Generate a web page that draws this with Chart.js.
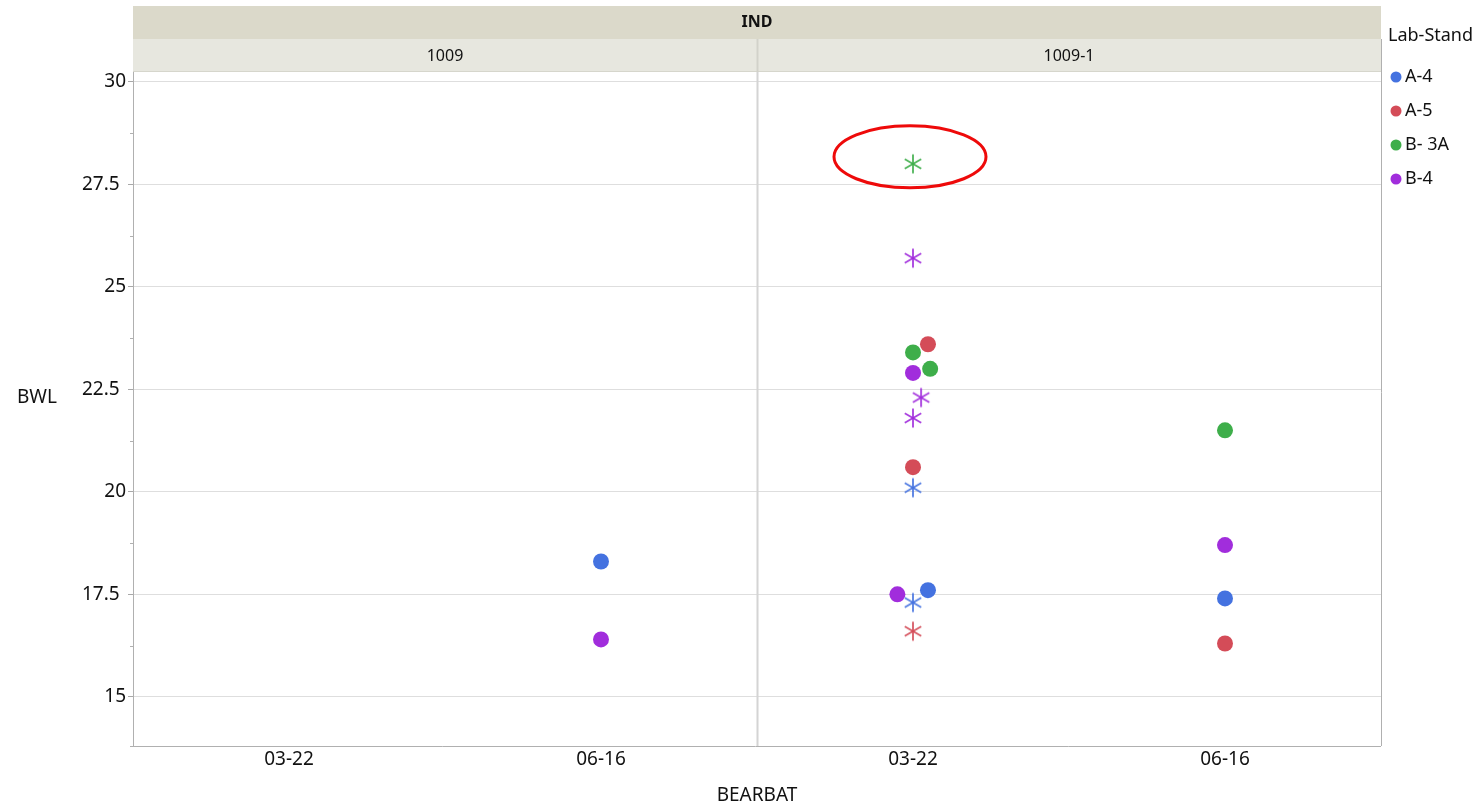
<!DOCTYPE html>
<html>
<head>
<meta charset="utf-8">
<script src="https://cdn.jsdelivr.net/npm/chart.js@4.4.1/dist/chart.umd.min.js"></script>
<style>
  html, body { margin: 0; padding: 0; background: #fff; }
</style>
</head>
<body>
<canvas id="c" width="1478" height="808"></canvas>
<script>
// categories
const indPanels = ['1009', '1009-1'];
const bearbat = ['03-22', '06-16'];
const labStands = ['A-4', 'A-5', 'B- 3A', 'B-4'];
const yTicks = [15, 17.5, 20, 22.5, 25, 27.5, 30];

// points: [slot (panel*2 + date), BWL, marker, jitter]
const a4 = [[1, 18.3, 'o', 0], [2, 20.1, '*', 0], [2, 17.6, 'o', 0.048], [2, 17.3, '*', 0], [3, 17.4, 'o', 0]];
const a5 = [[2, 23.6, 'o', 0.048], [2, 20.6, 'o', 0], [2, 16.6, '*', 0], [3, 16.3, 'o', 0]];
const b3a = [[2, 28.0, '*', 0], [2, 23.4, 'o', 0], [2, 23.0, 'o', 0.055], [3, 21.5, 'o', 0]];
const b4 = [[1, 16.4, 'o', 0], [2, 25.7, '*', 0], [2, 22.9, 'o', 0], [2, 22.3, '*', 0.026], [2, 21.8, '*', 0], [2, 17.5, 'o', -0.05], [3, 18.7, 'o', 0]];
const seriesPoints = [a4, a5, b3a, b4];
const highlight = { slot: 2, bwl: 28.0 };

const colors = ['#4472e0', '#d44c58', '#3eae4a', '#a12ddc'];
const FONT = '"Noto Sans", "Open Sans", sans-serif';

function makeStar(color) {
    const c = document.createElement('canvas');
    c.width = 22; c.height = 22;
    const g = c.getContext('2d');
    g.strokeStyle = color;
    g.globalAlpha = 0.92;
    g.lineWidth = 1.8;
    [90, 30, 150].forEach(a => {
        const r = 9.5, rad = a * Math.PI / 180;
        g.beginPath();
        g.moveTo(11 - r * Math.cos(rad), 11 - r * Math.sin(rad));
        g.lineTo(11 + r * Math.cos(rad), 11 + r * Math.sin(rad));
        g.stroke();
    });
    return c;
}
const stars = colors.map(makeStar);

const datasets = labStands.map((name, i) => ({
    label: name,
    data: seriesPoints[i].map(p => ({ x: p[0] + 0.5 + p[3], y: p[1], star: p[2] === '*' })),
    backgroundColor: colors[i],
    borderWidth: 0,
    pointRadius: 8,
    pointStyle: ctx => (ctx.raw && ctx.raw.star) ? stars[i] : 'circle'
}));

const decor = {
    id: 'decor',
    beforeDatasetsDraw(chart) {
        const { ctx, chartArea: a, scales: { x } } = chart;
        const dx = Math.round(x.getPixelForValue(2)) + 0.5;
        ctx.save();
        ctx.strokeStyle = '#d4d4d4';
        ctx.lineWidth = 2;
        ctx.beginPath(); ctx.moveTo(dx, a.top); ctx.lineTo(dx, a.bottom); ctx.stroke();
        ctx.restore();
    },
    afterDatasetsDraw(chart) {
        const { ctx, chartArea: a, scales: { x, y } } = chart;
        ctx.save();
        // headers
        ctx.fillStyle = '#dbd9ca';
        ctx.fillRect(a.left, 6, a.right - a.left, 33);
        ctx.fillStyle = '#e7e7df';
        ctx.fillRect(a.left, 39, a.right - a.left, 32);
        ctx.strokeStyle = '#d6d6cc';
        ctx.lineWidth = 1;
        ctx.beginPath(); ctx.moveTo(a.left, 71.5); ctx.lineTo(a.right, 71.5); ctx.stroke();
        const dx = Math.round(x.getPixelForValue(2)) + 0.5;
        ctx.strokeStyle = '#d2d2ca';
        ctx.lineWidth = 2;
        ctx.beginPath(); ctx.moveTo(dx, 39); ctx.lineTo(dx, 72); ctx.stroke();
        ctx.fillStyle = '#111';
        ctx.textAlign = 'center';
        ctx.textBaseline = 'middle';
        ctx.font = 'bold 16px ' + FONT;
        ctx.fillText('IND', (a.left + a.right) / 2, 22);
        ctx.font = '16px ' + FONT;
        indPanels.forEach((p, i) => ctx.fillText(p, x.getPixelForValue(i * 2 + 1), 56));

        // plot borders
        ctx.strokeStyle = '#b0b0b0';
        ctx.lineWidth = 1;
        ctx.beginPath();
        ctx.moveTo(a.left + 0.5, a.top); ctx.lineTo(a.left + 0.5, a.bottom);
        ctx.moveTo(a.left - 3, a.bottom + 0.5); ctx.lineTo(a.right, a.bottom + 0.5);
        ctx.moveTo(a.right + 0.5, 39); ctx.lineTo(a.right + 0.5, a.bottom);
        ctx.stroke();
        // minor ticks
        ctx.beginPath();
        for (let i = 0; i < yTicks.length - 1; i++) {
            const py = Math.round(y.getPixelForValue((yTicks[i] + yTicks[i + 1]) / 2)) + 0.5;
            ctx.moveTo(a.left - 3, py); ctx.lineTo(a.left, py);
        }
        ctx.stroke();

        // highlight ellipse
        const hx = x.getPixelForValue(highlight.slot + 0.5) - 3;
        const hy = y.getPixelForValue(highlight.bwl) - 7;
        ctx.strokeStyle = '#ee0a0a';
        ctx.lineWidth = 3;
        ctx.beginPath();
        ctx.ellipse(hx, hy, 76, 31, 0, 0, Math.PI * 2);
        ctx.stroke();

        // axis titles
        ctx.fillStyle = '#111';
        ctx.font = '19px ' + FONT;
        ctx.fillText('BWL', 37, 398);
        ctx.fillText('BEARBAT', (a.left + a.right) / 2, 796);

        // legend
        ctx.textAlign = 'left';
        ctx.font = '18px ' + FONT;
        ctx.fillText('Lab-Stand', 1388, 36);
        labStands.forEach((s, i) => {
            const ly = 77 + 34 * i;
            ctx.fillStyle = colors[i];
            ctx.beginPath(); ctx.arc(1396, ly, 5.5, 0, Math.PI * 2); ctx.fill();
            ctx.fillStyle = '#111';
            ctx.fillText(s, 1405, ly);
        });
        ctx.restore();
    }
};

new Chart(document.getElementById('c').getContext('2d'), {
    type: 'scatter',
    data: { datasets },
    options: {
        responsive: false,
        animation: false,
        layout: { padding: { top: 72, right: 97, left: 0, bottom: 0 } },
        plugins: { legend: { display: false }, tooltip: { enabled: false } },
        scales: {
            x: {
                type: 'linear',
                min: 0,
                max: 4,
                afterBuildTicks: s => { s.ticks = [0.5, 1.5, 2.5, 3.5].map(v => ({ value: v })); },
                afterFit: s => { s.height = 62; },
                ticks: {
                    autoSkip: false,
                    maxRotation: 0,
                    padding: -6,
                    color: '#111',
                    font: { size: 19, family: FONT },
                    callback: (v, i) => bearbat[i % 2]
                },
                grid: { display: false },
                border: { display: false }
            },
            y: {
                min: 13.8,
                max: 30.24,
                afterBuildTicks: s => { s.ticks = yTicks.map(v => ({ value: v })); },
                afterFit: s => { s.width = 133; },
                ticks: {
                    padding: 2,
                    color: '#111',
                    font: { size: 19, family: FONT },
                    callback: v => Number.isInteger(v) ? String(v) : v + '\u2009\u2009'
                },
                grid: { color: '#dedede', tickColor: '#a8a8a8', tickLength: 5 },
                border: { display: false }
            }
        }
    },
    plugins: [decor]
});
</script>
</body>
</html>
